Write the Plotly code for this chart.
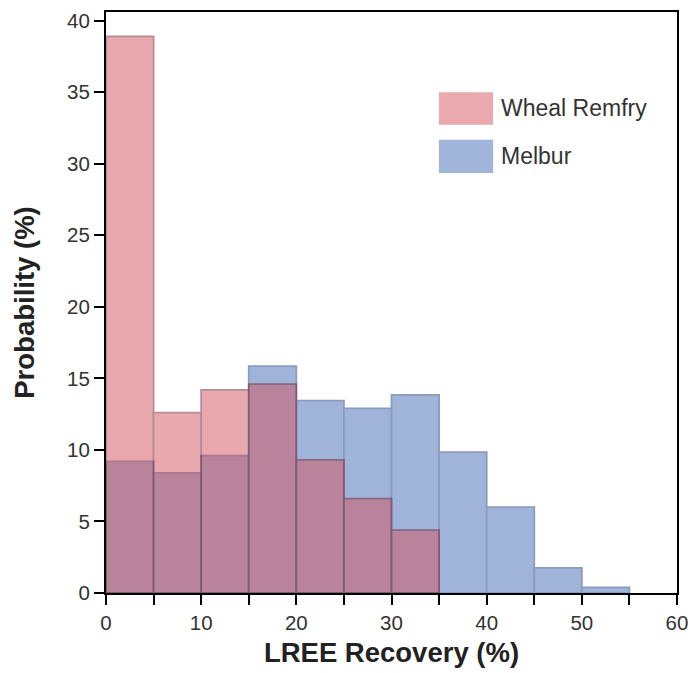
import plotly.graph_objects as go

# histogram bins (LREE recovery, %) and probabilities (%)
bin_edges = [0, 5, 10, 15, 20, 25, 30, 35, 40, 45, 50, 55]
wheal_remfry = [38.9, 12.6, 14.2, 14.6, 9.3, 6.6, 4.4]
melbur = [9.2, 8.4, 9.6, 15.85, 13.45, 12.9, 13.85, 9.85, 6.0, 1.75, 0.4]
series_names = ["Wheal Remfry", "Melbur"]
x_ticks = [0, 5, 10, 15, 20, 25, 30, 35, 40, 45, 50, 55, 60]
x_ticklabels = ["0", "", "10", "", "20", "", "30", "", "40", "", "50", "", "60"]
y_ticks = [0, 5, 10, 15, 20, 25, 30, 35, 40]

bin_w = bin_edges[1] - bin_edges[0]
centers = [e + bin_w / 2 for e in bin_edges[:-1]]

fig = go.Figure()

fig.add_trace(go.Bar(
    x=centers[:len(melbur)], y=melbur, width=bin_w, name=series_names[1],
    marker=dict(color="rgb(67,107,183)", line=dict(color="rgb(25,60,125)", width=1.8)),
    opacity=0.5, showlegend=False,
))
fig.add_trace(go.Bar(
    x=centers[:len(wheal_remfry)], y=wheal_remfry, width=bin_w, name=series_names[0],
    marker=dict(color="rgb(211,83,93)", line=dict(color="rgb(110,30,45)", width=1.8)),
    opacity=0.5, showlegend=False,
))

# legend drawn by hand to get the large swatches
swatches = [("rgb(233,169,174)", 0.806, 0.862), ("rgb(161,181,219)", 0.723, 0.780)]
for name, (col, y0, y1) in zip(series_names, swatches):
    fig.add_shape(type="rect", xref="paper", yref="paper", x0=0.583, x1=0.678,
                  y0=y0, y1=y1, fillcolor=col, line=dict(width=0))
    fig.add_annotation(xref="paper", yref="paper", x=0.689, y=(y0 + y1) / 2,
                       text=name, showarrow=False, xanchor="left", yanchor="middle",
                       font=dict(size=23, color="#333"))

axis_font = dict(family="Liberation Sans, Arial, sans-serif", size=20.5, color="#333")
title_font = dict(family="Liberation Sans, Arial, sans-serif", size=27.5, color="#222")

fig.update_layout(
    barmode="overlay",
    width=691, height=673,
    margin=dict(l=106, r=14, t=12, b=80, autoexpand=False),
    plot_bgcolor="white", paper_bgcolor="white",
    font=dict(family="Liberation Sans, Arial, sans-serif"),
)
fig.update_xaxes(
    range=[0, 60], tickvals=x_ticks, ticktext=x_ticklabels,
    ticks="outside", ticklen=10, tickwidth=2, tickcolor="black",
    showline=True, linecolor="black", linewidth=2, mirror=True,
    showgrid=False, zeroline=False, tickfont=axis_font, automargin=False,
    ticklabeloverflow="allow",
    title=dict(text="<b>LREE Recovery (%)</b>", font=title_font, standoff=10),
)
fig.update_yaxes(
    range=[0, 40.6], tickvals=y_ticks,
    ticks="outside", ticklen=10, tickwidth=2, tickcolor="black",
    showline=True, linecolor="black", linewidth=2, mirror=True,
    showgrid=False, zeroline=False, tickfont=axis_font, automargin=False,
    title=dict(text="<b>Probability (%)</b>", font=title_font, standoff=24),
)

# drop the default page margin so the figure fills the window exactly
fig.write_html("out.html", config={"displayModeBar": False},
               post_script="document.body.style.margin='0';")
